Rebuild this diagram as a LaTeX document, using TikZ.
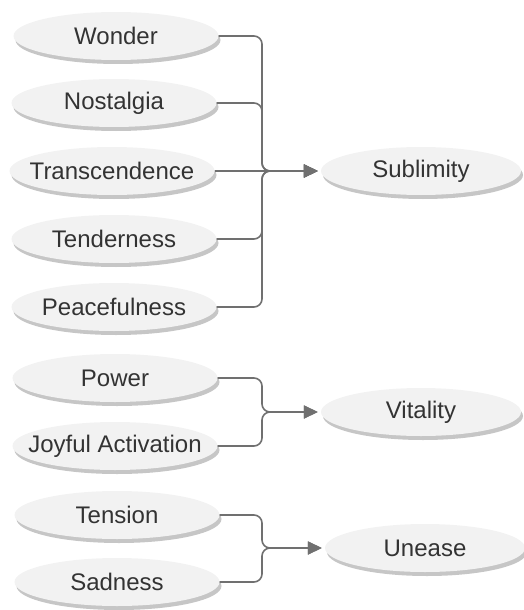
\documentclass[tikz,border=0pt]{standalone}
\usepackage{fontspec}
\setmainfont{Liberation Sans}
\usetikzlibrary{shapes.geometric,shadows,arrows.meta}
\definecolor{efill}{HTML}{F2F2F2}
\definecolor{eshadow}{HTML}{C6C6C6}
\definecolor{conncol}{HTML}{707070}
\definecolor{txtcol}{HTML}{333333}
\newcommand{\nt}[1]{\makebox[0pt][c]{#1}}
\tikzset{
  emo/.style={ellipse, fill=efill, minimum width=205pt, minimum height=48pt, inner sep=0pt,
    text=txtcol, font=\fontsize{24}{28}\selectfont,
    drop shadow={shadow xshift=2pt, shadow yshift=-4pt, fill=eshadow, opacity=1}},
  cat/.style={emo, minimum width=200pt},
  conn/.style={draw=conncol, line width=1.6pt, rounded corners=8pt,
    -{Triangle[length=14pt,width=13pt]}, shorten >=3pt}
}
\begin{document}
\begin{tikzpicture}[x=1pt,y=-1pt]
\useasboundingbox (0,0) rectangle (523,610);
% sources
\node[emo] (won) at (116,36) {\nt{Wonder}};
\node[emo] (nos) at (114,103) {\nt{Nostalgia}};
\node[emo] (tra) at (112,171) {\nt{Transcendence}};
\node[emo] (ten) at (114,239) {\nt{Tenderness}};
\node[emo] (pea) at (114,307) {\nt{Peacefulness}};
\node[emo] (pow) at (115,378) {\nt{Power}};
\node[emo] (joy) at (115,446) {\nt{Joyful Activation}};
\node[emo] (tns) at (117,515) {\nt{Tension}};
\node[emo] (sad) at (117,582) {\nt{Sadness}};
% targets
\node[cat] (sub) at (421,171) {\nt{Sublimity}};
\node[cat] (vit) at (421,412) {\nt{Vitality}};
\node[cat] (une) at (425,548) {\nt{Unease}};
% junctions
\coordinate (j1) at (262,171);
\coordinate (j2) at (262,412);
\coordinate (j3) at (262,548);
% connectors
\draw[conn] (won.east) -| (j1) -- (sub.west);
\draw[conn] (nos.east) -| (j1) -- (sub.west);
\draw[conn] (tra.east) -- (sub.west);
\draw[conn] (ten.east) -| (j1) -- (sub.west);
\draw[conn] (pea.east) -| (j1) -- (sub.west);
\draw[conn] (pow.east) -| (j2) -- (vit.west);
\draw[conn] (joy.east) -| (j2) -- (vit.west);
\draw[conn] (tns.east) -| (j3) -- (une.west);
\draw[conn] (sad.east) -| (j3) -- (une.west);
\end{tikzpicture}
\end{document}
